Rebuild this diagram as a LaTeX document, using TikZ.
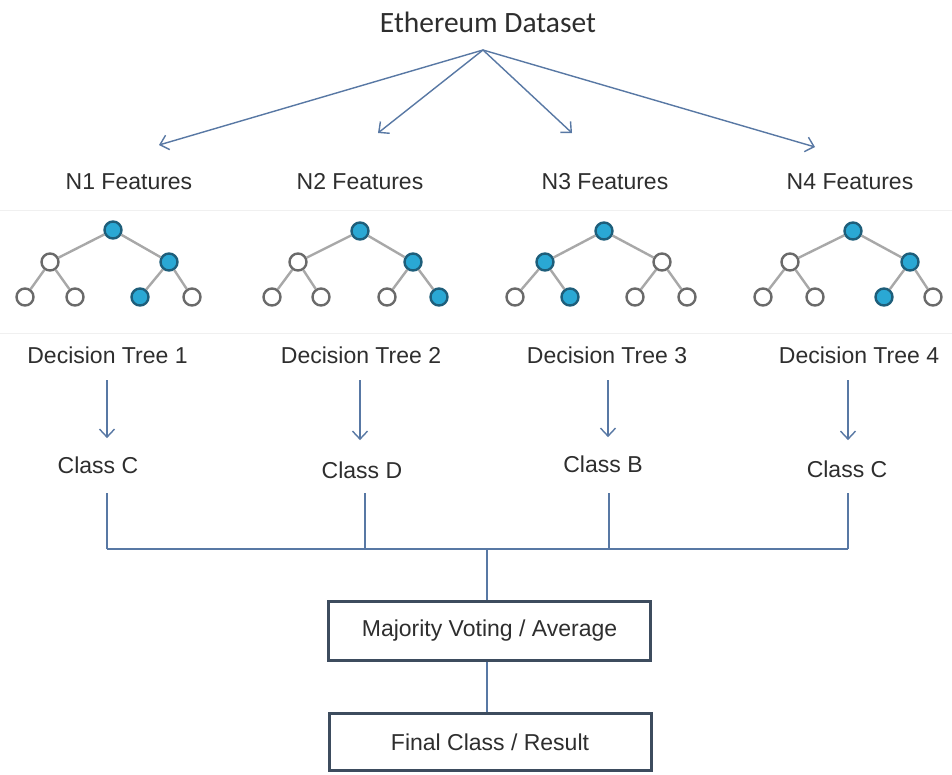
\documentclass[tikz,border=0pt]{standalone}
\usepackage{fontspec}
\setmainfont{Liberation Sans}
\newfontfamily\titlefont{Carlito}
\usetikzlibrary{arrows.meta,calc}
\definecolor{ink}{HTML}{2E2E2E}
\definecolor{linkc}{HTML}{5878A4}
\definecolor{boxc}{HTML}{3D4C5E}
\definecolor{hitfill}{HTML}{2AA8D4}
\definecolor{hitdraw}{HTML}{1E5E7A}
\definecolor{opendraw}{HTML}{6A6A6A}
\definecolor{branchc}{HTML}{A8A8A8}
\definecolor{seam}{HTML}{F0F0F0}
\begin{document}
\begin{tikzpicture}[x=1pt,y=-1pt,
  lbl/.style={font=\fontsize{23}{27}\selectfont, text=ink, inner sep=0pt, anchor=base},
  link/.style={draw=linkc, line width=1.4pt},
  arr/.style={link, -{Straight Barb[length=8pt,width=15pt]}},
  hit/.style={circle, draw=hitdraw, fill=hitfill, line width=2.4pt, minimum size=17pt, inner sep=0pt},
  open/.style={circle, draw=opendraw, fill=white, line width=2.4pt, minimum size=17pt, inner sep=0pt},
  branch/.style={draw=branchc, line width=2.4pt},
  stage/.style={draw=boxc, line width=3pt, fill=white, minimum width=322pt, inner sep=0pt,
                font=\fontsize{23}{27}\selectfont, text=ink}]
\useasboundingbox (0,0) rectangle (952,774);
\fill[white] (0,0) rectangle (952,774);

% faint seams of the pasted tree strip
\draw[seam, line width=1pt] (0,210) -- (952,210);
\draw[seam, line width=1pt] (0,333) -- (952,333);

% source
\node[font=\titlefont\fontsize{29.5}{34}\selectfont, text=ink, inner sep=0pt, anchor=base]
  (data) at (488,32) {Ethereum Dataset};
\coordinate (apex) at (483,50);

% feature subsets
\node[lbl] (f1) at (129,189) {N1 Features};
\node[lbl] (f2) at (360,189) {N2 Features};
\node[lbl] (f3) at (605,189) {N3 Features};
\node[lbl] (f4) at (850,189) {N4 Features};
\coordinate (tip1) at (159,145);
\coordinate (tip2) at (378,133);
\coordinate (tip3) at (572,133);
\coordinate (tip4) at (815,147);
\foreach \t in {tip1,tip2,tip3,tip4} \draw[arr] (apex) -- (\t);

% tree 1
\node[hit]  (t1r)  at (113,230) {};
\node[open] (t1a)  at (50,262) {};
\node[hit]  (t1b)  at (169,262) {};
\node[open] (t1aa) at (25,297) {};
\node[open] (t1ab) at (75,297) {};
\node[hit]  (t1ba) at (140,297) {};
\node[open] (t1bb) at (192,297) {};
% tree 2
\node[hit]  (t2r)  at (360,231) {};
\node[open] (t2a)  at (298,262) {};
\node[hit]  (t2b)  at (413,262) {};
\node[open] (t2aa) at (272,297) {};
\node[open] (t2ab) at (321,297) {};
\node[open] (t2ba) at (387,297) {};
\node[hit]  (t2bb) at (439,297) {};
% tree 3
\node[hit]  (t3r)  at (604,231) {};
\node[hit]  (t3a)  at (545,262) {};
\node[open] (t3b)  at (662,262) {};
\node[open] (t3aa) at (515,297) {};
\node[hit]  (t3ab) at (570,297) {};
\node[open] (t3ba) at (635,297) {};
\node[open] (t3bb) at (687,297) {};
% tree 4
\node[hit]  (t4r)  at (853,231) {};
\node[open] (t4a)  at (790,262) {};
\node[hit]  (t4b)  at (910,262) {};
\node[open] (t4aa) at (763,297) {};
\node[open] (t4ab) at (815,297) {};
\node[hit]  (t4ba) at (884,297) {};
\node[open] (t4bb) at (933,297) {};
\foreach \k in {1,2,3,4}
  \draw[branch] (t\k r) -- (t\k a)  (t\k r) -- (t\k b)
                (t\k a) -- (t\k aa) (t\k a) -- (t\k ab)
                (t\k b) -- (t\k ba) (t\k b) -- (t\k bb);

% tree names
\node[lbl] (dt1) at (107.5,363) {Decision Tree 1};
\node[lbl] (dt2) at (361,363) {Decision Tree 2};
\node[lbl] (dt3) at (607,363) {Decision Tree 3};
\node[lbl] (dt4) at (859,363) {Decision Tree 4};

% predicted classes
\node[lbl] (c1) at (98,473) {Class C};
\node[lbl] (c2) at (362,478) {Class D};
\node[lbl] (c3) at (603,472) {Class B};
\node[lbl] (c4) at (847,477) {Class C};

\coordinate (d1) at (107,380);
\coordinate (d2) at (360,380);
\coordinate (d3) at (608,380);
\coordinate (d4) at (848,380);
\draw[arr, shorten >=18pt] (d1) -- (d1 |- c1.north);
\draw[arr, shorten >=21pt] (d2) -- (d2 |- c2.north);
\draw[arr, shorten >=18pt] (d3) -- (d3 |- c3.north);
\draw[arr, shorten >=20pt] (d4) -- (d4 |- c4.north);

% aggregation
\node[stage, minimum height=59pt] (vote)  at (489.5,631) {Majority Voting / Average};
\node[stage, minimum height=57pt] (final) at (490,742) {Final Class / Result};

\coordinate (j1) at (107,549);
\coordinate (j2) at (365,549);
\coordinate (j3) at (609,549);
\coordinate (j4) at (848,549);
\coordinate (hub) at (487,549);
\foreach \j in {j1,j2,j3,j4} \draw[link] (\j) -- ++(0,-56);
\draw[link] (j1) -- (j4);
\draw[link] (hub) -- (hub |- vote.north);
\draw[link] (vote.south -| hub) -- (final.north -| hub);
\end{tikzpicture}
\end{document}
